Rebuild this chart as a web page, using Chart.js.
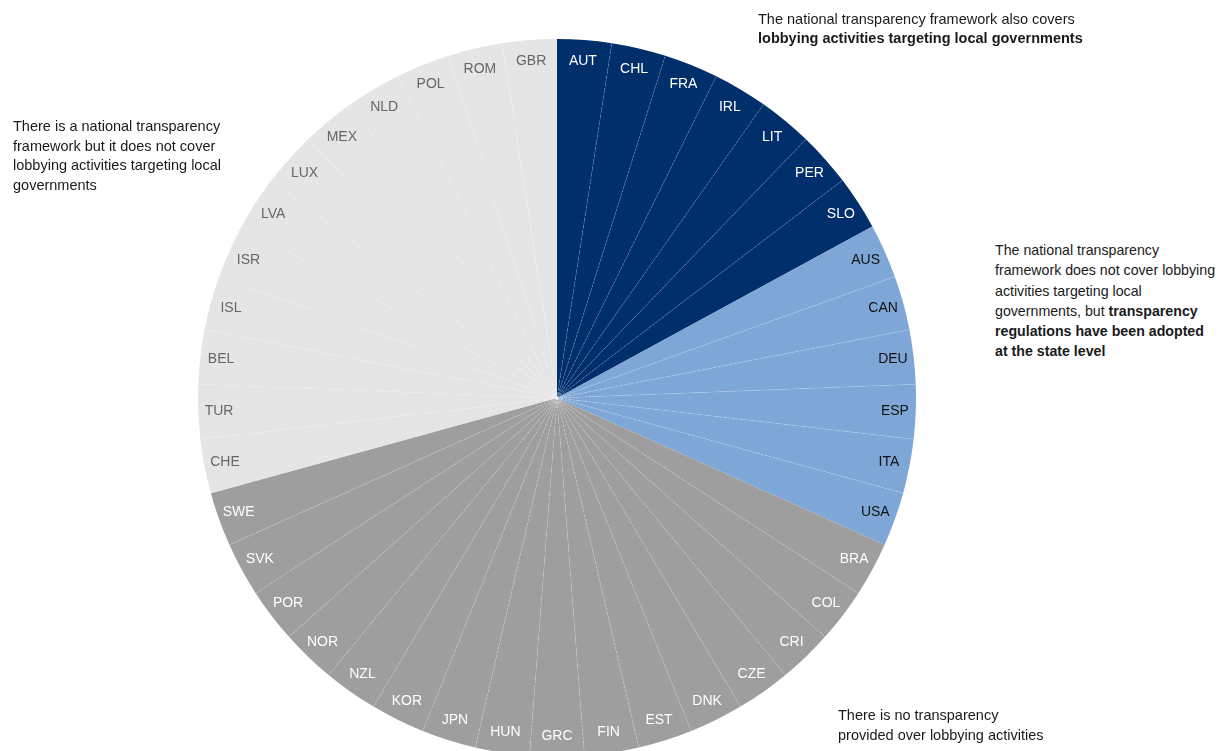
<!DOCTYPE html>
<html>
<head>
<meta charset="utf-8">
<script src="https://cdn.jsdelivr.net/npm/chart.js@4.4.0/dist/chart.umd.min.js"></script>
<style>
  html, body { margin: 0; padding: 0; background: #fff; overflow: hidden; width: 1225px; height: 751px; }
  body { position: relative; font-family: "Liberation Sans", Arial, sans-serif; color: #1a1a1a; }
  #pieBox { position: absolute; left: 198px; top: 39px; width: 718px; height: 718px; }
  .note { position: absolute; font-size: 14.5px; line-height: 20px; white-space: nowrap; }
  .note b { font-weight: bold; }
</style>
</head>
<body>

<div id="pieBox"><canvas id="pieChart"></canvas></div>

<div class="note" style="left:758px; top:10px; line-height:19px;">
  The national transparency framework also covers<br>
  <b>lobbying activities targeting local governments</b>
</div>

<div class="note" style="left:13px; top:117px; line-height:19.5px;">
  There is a national transparency<br>
  framework but it does not cover<br>
  lobbying activities targeting local<br>
  governments
</div>

<div class="note" style="left:995px; top:240px; line-height:20.3px; font-size:14.2px;">
  The national transparency<br>
  framework does not cover lobbying<br>
  activities targeting local<br>
  governments, but <b>transparency</b><br>
  <b>regulations have been adopted</b><br>
  <b>at the state level</b>
</div>

<div class="note" style="left:838px; top:705px;">
  There is no transparency<br>
  provided over lobbying activities
</div>

<script>
const countries = [
  "AUT", "CHL", "FRA", "IRL", "LIT", "PER", "SLO",
  "AUS", "CAN", "DEU", "ESP", "ITA", "USA",
  "BRA", "COL", "CRI", "CZE", "DNK", "EST", "FIN", "GRC", "HUN", "JPN", "KOR", "NZL", "NOR", "POR", "SVK", "SWE",
  "CHE", "TUR", "BEL", "ISL", "ISR", "LVA", "LUX", "MEX", "NLD", "POL", "ROM", "GBR"
];

// 0 = covers local, 1 = state level, 2 = no transparency, 3 = national only
const groups = [
  0, 0, 0, 0, 0, 0, 0,
  1, 1, 1, 1, 1, 1,
  2, 2, 2, 2, 2, 2, 2, 2, 2, 2, 2, 2, 2, 2, 2, 2,
  3, 3, 3, 3, 3, 3, 3, 3, 3, 3, 3, 3
];

const values = [
  1, 1, 1, 1, 1, 1, 1,
  1, 1, 1, 1, 1, 1,
  1, 1, 1, 1, 1, 1, 1, 1, 1, 1, 1, 1, 1, 1, 1, 1,
  1, 1, 1, 1, 1, 1, 1, 1, 1, 1, 1, 1
];

const groupColors = ["#002f6c", "#7ea7d8", "#9e9e9e", "#e5e5e5"];
const labelColors = ["#ffffff", "#111111", "#ffffff", "#666666"];

// dashed separators inside a group + country labels
const sliceDecor = {
  id: "sliceDecor",
  afterDatasetsDraw(chart) {
    const ctx = chart.ctx;
    const arcs = chart.getDatasetMeta(0).data;

    ctx.save();
    ctx.setLineDash([2, 2]);
    ctx.lineWidth = 0.6;
    ctx.strokeStyle = "rgba(255,255,255,0.35)";
    arcs.forEach((arc, i) => {
      const prev = i === 0 ? groups.length - 1 : i - 1;
      if (groups[prev] !== groups[i]) return;
      const p = arc.getProps(["x", "y", "startAngle", "outerRadius"], true);
      ctx.beginPath();
      ctx.moveTo(p.x, p.y);
      ctx.lineTo(p.x + Math.cos(p.startAngle) * p.outerRadius, p.y + Math.sin(p.startAngle) * p.outerRadius);
      ctx.stroke();
    });
    ctx.restore();

    ctx.save();
    ctx.font = "14px 'Liberation Sans', Arial, sans-serif";
    ctx.textAlign = "center";
    ctx.textBaseline = "middle";
    arcs.forEach((arc, i) => {
      const p = arc.getProps(["x", "y", "startAngle", "endAngle", "outerRadius"], true);
      const mid = (p.startAngle + p.endAngle) / 2;
      const r = p.outerRadius * 0.942;
      ctx.fillStyle = labelColors[groups[i]];
      ctx.fillText(countries[i], p.x + Math.cos(mid) * r, p.y + Math.sin(mid) * r);
    });
    ctx.restore();
  }
};

new Chart(document.getElementById("pieChart"), {
  type: "pie",
  data: {
    labels: countries,
    datasets: [{
      data: values,
      backgroundColor: groups.map(g => groupColors[g]),
      borderWidth: 0
    }]
  },
  options: {
    responsive: true,
    maintainAspectRatio: false,
    animation: false,
    layout: { padding: 0 },
    plugins: {
      legend: { display: false },
      tooltip: { enabled: false }
    }
  },
  plugins: [sliceDecor]
});
</script>
</body>
</html>
